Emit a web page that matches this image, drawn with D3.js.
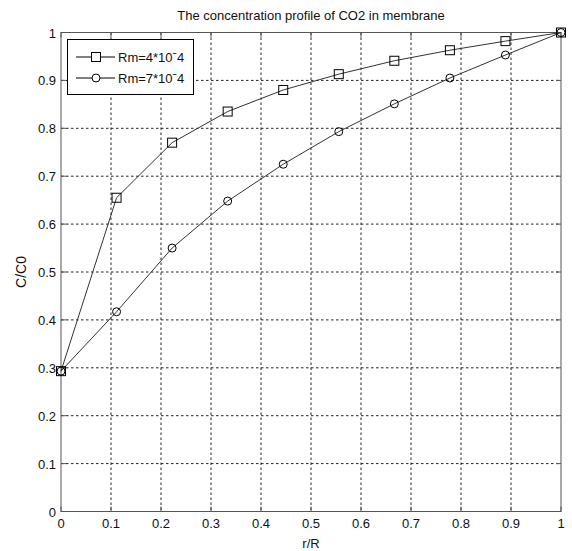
<!DOCTYPE html>
<html lang="en">
<head>
  <meta charset="UTF-8">
  <title>CO2 concentration profile</title>
  <script src="https://d3js.org/d3.v7.min.js"></script>
  <style>
    html, body { margin: 0; padding: 0; background: #fff; }
    svg { display: block; font-family: "Liberation Sans", Arial, sans-serif; }
    .grid line { stroke: #222; stroke-dasharray: 2.5,2.5; stroke-width: 1; }
    .tick-label { font-size: 13px; fill: #111; }
  </style>
</head>
<body>
  <svg width="572" height="551"></svg>
  <script>
    // data
    const rR = [0, 1/9, 2/9, 3/9, 4/9, 5/9, 6/9, 7/9, 8/9, 1];
    const rm4 = [0.293, 0.655, 0.770, 0.835, 0.880, 0.913, 0.941, 0.963, 0.982, 1.0];
    const rm7 = [0.293, 0.417, 0.550, 0.648, 0.725, 0.793, 0.851, 0.905, 0.953, 1.0];
    const ticks = [0, 0.1, 0.2, 0.3, 0.4, 0.5, 0.6, 0.7, 0.8, 0.9, 1];
    const seriesNames = ["Rm=4*10\u02C94", "Rm=7*10\u02C94"];

    const svg = d3.select("svg");
    const mLeft = 61, mRight = 561, mTop = 32.5, mBottom = 511.5;
    const x = d3.scaleLinear().domain([0, 1]).range([mLeft, mRight]);
    const y = d3.scaleLinear().domain([0, 1]).range([mBottom, mTop]);

    // grid
    const grid = svg.append("g").attr("class", "grid");
    grid.selectAll(".gx").data(ticks.slice(1, -1)).enter().append("line")
      .attr("x1", d => x(d)).attr("x2", d => x(d)).attr("y1", mTop).attr("y2", mBottom);
    grid.selectAll(".gy").data(ticks.slice(1, -1)).enter().append("line")
      .attr("y1", d => y(d)).attr("y2", d => y(d)).attr("x1", mLeft).attr("x2", mRight);

    // frame
    svg.append("rect").attr("x", mLeft).attr("y", mTop).attr("width", mRight - mLeft).attr("height", mBottom - mTop)
      .attr("fill", "none").attr("stroke", "#555").attr("stroke-width", 1);

    // inward ticks on all sides
    const tk = svg.append("g").attr("stroke", "#555");
    ticks.forEach(t => {
      tk.append("line").attr("x1", x(t)).attr("x2", x(t)).attr("y1", mBottom).attr("y2", mBottom - 5);
      tk.append("line").attr("x1", x(t)).attr("x2", x(t)).attr("y1", mTop).attr("y2", mTop + 5);
      tk.append("line").attr("y1", y(t)).attr("y2", y(t)).attr("x1", mLeft).attr("x2", mLeft + 5);
      tk.append("line").attr("y1", y(t)).attr("y2", y(t)).attr("x1", mRight).attr("x2", mRight - 5);
    });

    // tick labels
    svg.selectAll(".xl").data(ticks).enter().append("text")
      .attr("class", "tick-label").attr("x", d => x(d)).attr("y", 528)
      .attr("text-anchor", "middle").text(d => d3.format("~g")(d));
    svg.selectAll(".yl").data(ticks).enter().append("text")
      .attr("class", "tick-label").attr("x", mLeft - 5).attr("y", d => y(d) + 5)
      .attr("text-anchor", "end").text(d => d3.format("~g")(d));

    // titles
    svg.append("text").attr("x", (mLeft + mRight) / 2).attr("y", 20).attr("text-anchor", "middle")
      .attr("font-size", "13px").attr("fill", "#111").text("The concentration profile of CO2 in membrane");
    svg.append("text").attr("x", (mLeft + mRight) / 2).attr("y", 548).attr("text-anchor", "middle")
      .attr("font-size", "13px").attr("fill", "#111").text("r/R");
    svg.append("text").attr("transform", `translate(26,${(mTop + mBottom) / 2}) rotate(-90)`)
      .attr("text-anchor", "middle").attr("font-size", "14px").attr("fill", "#111").text("C/C0");

    const line = d3.line().x((d, i) => x(rR[i])).y(d => y(d));

    // series 2: circles
    svg.append("path").datum(rm7).attr("d", line).attr("fill", "none").attr("stroke", "#333").attr("stroke-width", 1);
    svg.selectAll(".c").data(rm7).enter().append("circle")
      .attr("cx", (d, i) => x(rR[i])).attr("cy", d => y(d)).attr("r", 4)
      .attr("fill", "none").attr("stroke", "#000").attr("stroke-width", 1);

    // series 1: squares
    svg.append("path").datum(rm4).attr("d", line).attr("fill", "none").attr("stroke", "#333").attr("stroke-width", 1);
    svg.selectAll(".s").data(rm4).enter().append("rect")
      .attr("x", (d, i) => x(rR[i]) - 4.5).attr("y", d => y(d) - 4.5).attr("width", 9).attr("height", 9)
      .attr("fill", "none").attr("stroke", "#000").attr("stroke-width", 1);

    // legend
    const lg = svg.append("g");
    lg.append("rect").attr("x", 67.5).attr("y", 39.5).attr("width", 126).attr("height", 55)
      .attr("fill", "#fff").attr("stroke", "#000");
    [57, 78].forEach((ly, i) => {
      lg.append("line").attr("x1", 76).attr("x2", 115).attr("y1", ly).attr("y2", ly).attr("stroke", "#000");
      if (i === 0) {
        lg.append("rect").attr("x", 91.5).attr("y", ly - 4.5).attr("width", 9).attr("height", 9)
          .attr("fill", "#fff").attr("stroke", "#000");
      } else {
        lg.append("circle").attr("cx", 96).attr("cy", ly).attr("r", 4)
          .attr("fill", "#fff").attr("stroke", "#000");
      }
      lg.append("text").attr("x", 118).attr("y", ly + 5).attr("font-size", "13px").attr("fill", "#111").text(seriesNames[i]);
    });
  </script>
</body>
</html>
